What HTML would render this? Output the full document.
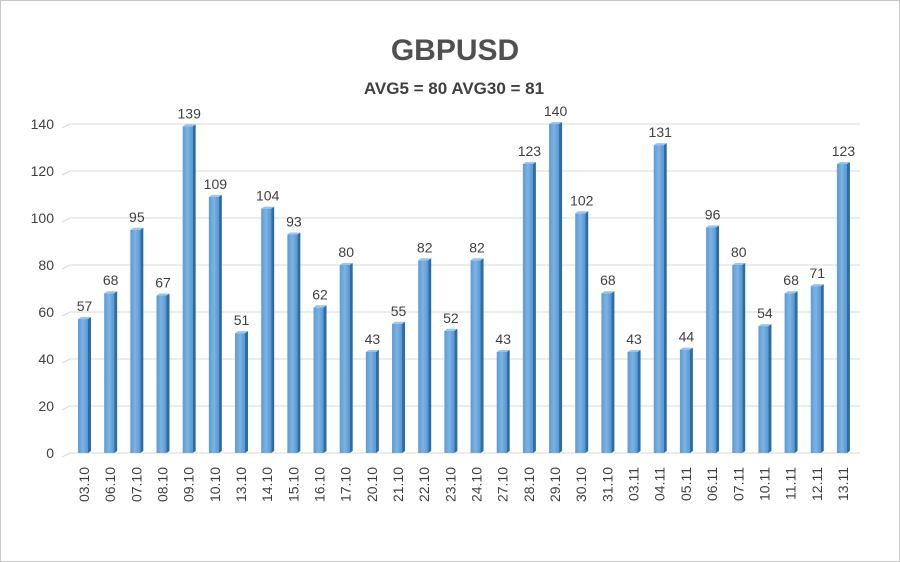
<!DOCTYPE html>
<html><head><meta charset="utf-8"><style>
html,body{margin:0;padding:0;background:#fff}
svg{display:block}
text{font-family:"Liberation Sans",sans-serif}
</style></head><body>
<svg width="900" height="562" viewBox="0 0 900 562" xmlns="http://www.w3.org/2000/svg">
<defs>
<linearGradient id="g" x1="0" x2="1" y1="0" y2="0">
<stop offset="0" stop-color="#5b9bd5"/><stop offset="0.5" stop-color="#7db3e3"/><stop offset="1" stop-color="#5596d2"/>
</linearGradient>
</defs>
<rect x="0.5" y="0.5" width="899" height="561" fill="#fff" stroke="#c8c8c8"/>
<text x="455" y="60" text-anchor="middle" font-size="30" font-weight="bold" fill="#505050">GBPUSD</text>
<text x="454" y="94" text-anchor="middle" font-size="17" font-weight="bold" fill="#404040">AVG5 = 80 AVG30 = 81</text>
<g id="grid"></g>
<g id="bars"></g>
<script>
var vals=[57,68,95,67,139,109,51,104,93,62,80,43,55,82,52,82,43,123,140,102,68,43,131,44,96,80,54,68,71,123];
var labs=["03.10","06.10","07.10","08.10","09.10","10.10","13.10","14.10","15.10","16.10","17.10","20.10","21.10","22.10","23.10","24.10","27.10","28.10","29.10","30.10","31.10","03.11","04.11","05.11","06.11","07.11","10.11","11.11","12.11","13.11"];
var ns="http://www.w3.org/2000/svg";
function el(t,a,p,txt){var e=document.createElementNS(ns,t);for(var k in a)e.setAttribute(k,a[k]);if(txt!=null)e.textContent=txt;p.appendChild(e);return e;}
var G=document.getElementById("grid"),B=document.getElementById("bars");
var base=453,sc=2.35;
for(var v=0;v<=140;v+=20){var y=base-v*sc;
el("polyline",{points:(62)+","+(y+4)+" "+(70)+","+(y)+" 860,"+y,fill:"none",stroke:"#d9d9d9","stroke-width":1},G);
el("text",{x:54,y:y+5,"text-anchor":"end","font-size":14,fill:"#404040"},G,v);}
for(var i=0;i<30;i++){var x=78+i*26.17,h=vals[i]*sc,t=base-h;
el("rect",{x:x,y:t,width:10,height:h,fill:"url(#g)"},B);
el("polygon",{points:(x+10)+","+t+" "+(x+13)+","+(t-2)+" "+(x+13)+","+(base-2)+" "+(x+10)+","+base,fill:"#2e6da4"},B);
el("polygon",{points:x+","+t+" "+(x+3)+","+(t-2)+" "+(x+13)+","+(t-2)+" "+(x+10)+","+t,fill:"#9cc4ea"},B);
el("text",{x:x+6.5,y:t-8,"text-anchor":"middle","font-size":14,fill:"#404040"},B,vals[i]);
el("text",{x:0,y:0,"text-anchor":"end","font-size":14,fill:"#404040",transform:"translate("+(x+11)+",467) rotate(-90)"},B,labs[i]);}
</script>
</svg>
</body></html>
